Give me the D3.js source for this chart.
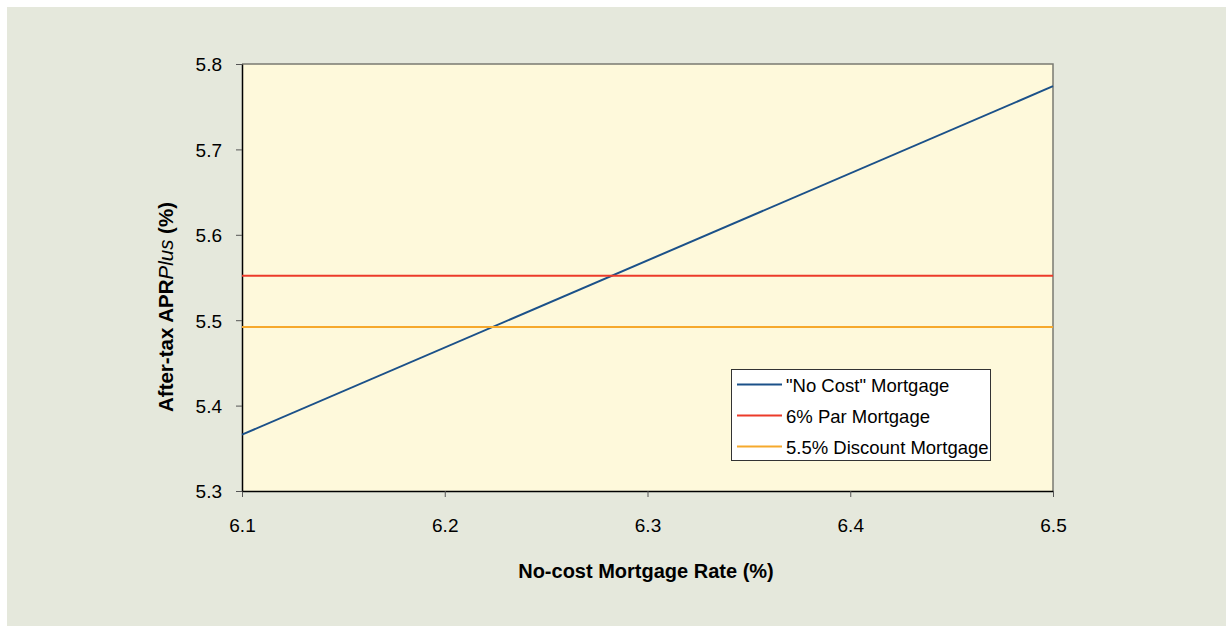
<!DOCTYPE html>
<html><head><meta charset="utf-8">
<script src="https://cdn.jsdelivr.net/npm/d3@7"></script>
<style>body{margin:0;background:#fff}svg{display:block}svg text{font-family:"Liberation Sans",Arial,sans-serif}</style>
</head><body><svg id="c" width="1226" height="626"></svg>
<script>
const seriesNames = ['"No Cost" Mortgage', '6% Par Mortgage', '5.5% Discount Mortgage'];
const xValues = [6.1, 6.5];
const noCost = [5.366, 5.774];
const parMortgage = [5.552, 5.552];
const discountMortgage = [5.492, 5.492];
const xTicks = [6.1, 6.2, 6.3, 6.4, 6.5];
const yTicks = [5.3, 5.4, 5.5, 5.6, 5.7, 5.8];
const colors = ["#1B5189", "#EC3B2A", "#F6A92C"];

const svg = d3.select("#c");
svg.append("rect").attr("x",7).attr("y",7).attr("width",1219).attr("height",619).attr("fill","#E5E8DC");
const L=242,T=64,R=1053,B=491;
const x = d3.scaleLinear().domain([6.1,6.5]).range([L,R]);
const y = d3.scaleLinear().domain([5.3,5.8]).range([B,T]);
svg.append("rect").attr("x",L).attr("y",T).attr("width",R-L).attr("height",B-T).attr("fill","#FEF9DB");
svg.append("path").attr("d",`M${L},${T}H${R}V${B}`).attr("fill","none").attr("stroke","#7a7a72").attr("stroke-width",1.5);

const xa = svg.append("g").attr("transform",`translate(0,${B})`).call(d3.axisBottom(x).tickValues(xTicks).tickFormat(d3.format(".1f")).tickSize(6).tickSizeOuter(0));
const ya = svg.append("g").attr("transform",`translate(${L},0)`).call(d3.axisLeft(y).tickValues(yTicks).tickFormat(d3.format(".1f")).tickSize(6).tickSizeOuter(0));
[xa,ya].forEach(a=>{a.attr("font-family",null).attr("font-size",null);a.select(".domain").attr("stroke","#000").attr("stroke-width",1.5);a.selectAll(".tick line").attr("stroke","#555");a.selectAll("text").attr("font-size",19).attr("fill","#000");});
xa.selectAll("text").attr("y",41).attr("dy",null);
ya.selectAll("text").attr("x",-20).attr("dy","0.36em");

const data=[noCost,parMortgage,discountMortgage];
const line=d3.line().x((d,i)=>x(xValues[i])).y(d=>y(d));
data.forEach((s,i)=>{
  svg.append("path").datum(s).attr("d",line).attr("fill","none").attr("stroke",colors[i]).attr("stroke-width",2);
});

const lg=svg.append("g");
lg.append("rect").attr("x",731.5).attr("y",369.5).attr("width",259).attr("height",91).attr("fill","#fff").attr("stroke","#333").attr("stroke-width",1);
seriesNames.forEach((n,i)=>{
  const yy=384.5+i*31;
  lg.append("line").attr("x1",737).attr("x2",782).attr("y1",yy).attr("y2",yy).attr("stroke",colors[i]).attr("stroke-width",2);
  lg.append("text").attr("x",786).attr("y",yy+7).attr("font-size",18.5).attr("fill","#000").text(n);
});

svg.append("text").attr("x",646).attr("y",578).attr("text-anchor","middle").attr("font-size",20).attr("font-weight","bold").text("No-cost Mortgage Rate (%)");
const yl=svg.append("text").attr("transform",`translate(173,307) rotate(-90)`).attr("text-anchor","middle").attr("font-size",20.5).attr("font-weight","bold");
yl.append("tspan").text("After-tax APR");
yl.append("tspan").attr("font-style","italic").attr("font-weight","normal").text("Plus");
yl.append("tspan").text(" (%)");
</script></body></html>
